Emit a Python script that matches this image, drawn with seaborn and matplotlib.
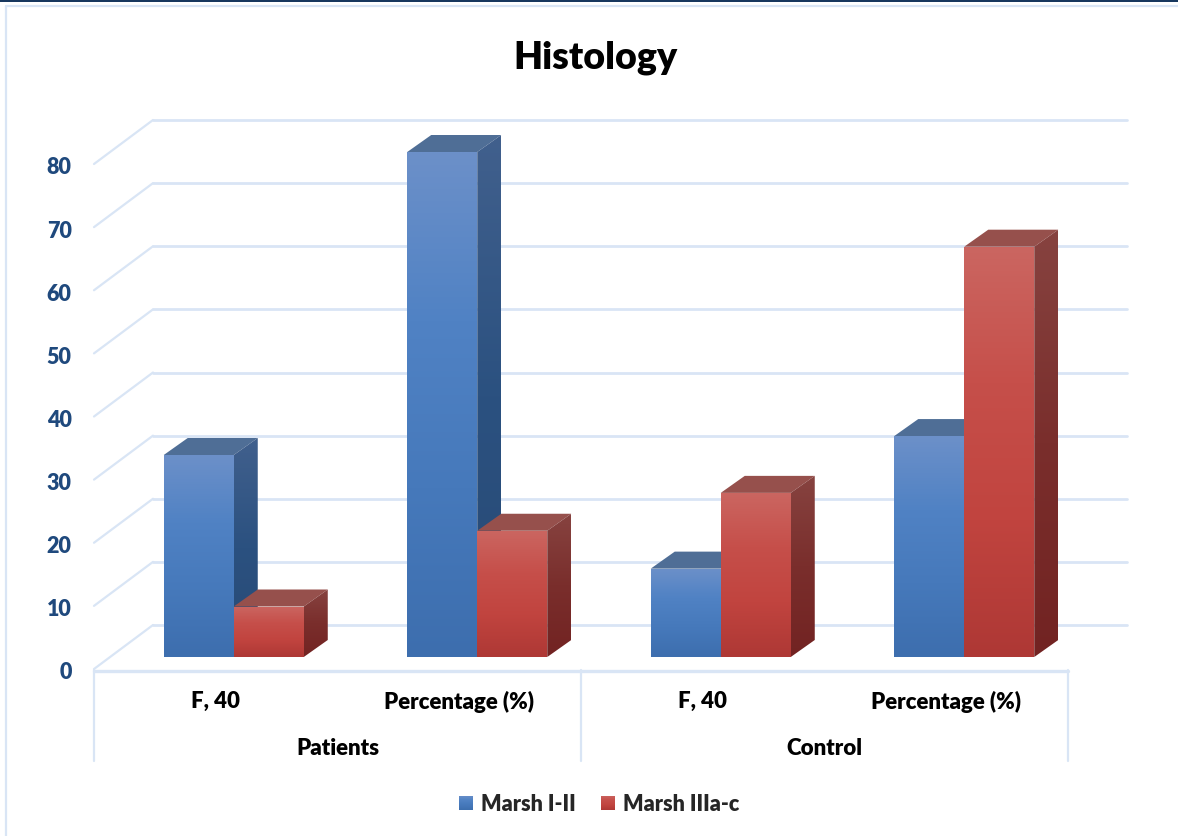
import numpy as np
import pandas as pd
import seaborn as sns
import matplotlib.pyplot as plt
from matplotlib.colors import LinearSegmentedColormap
from matplotlib.lines import Line2D
from matplotlib.patches import Polygon, Rectangle
from matplotlib.transforms import Affine2D, IdentityTransform

# chart values
groups = ["Patients", "Patients", "Control", "Control"]
categories = ["F, 40", "Percentage (%)", "F, 40 ", "Percentage (%) "]
marsh_low = [32, 80, 14, 35]
marsh_high = [8, 20, 26, 65]
series_names = ["Marsh I-II", "Marsh IIIa-c"]
y_ticks = [0, 10, 20, 30, 40, 50, 60, 70, 80]

W, H = 1178, 837
GRID = "#d9e5f5"
WEIGHT = "heavy"
DEPTH = (24, 17)      # bar depth in px
FRONT = (-18, -12)    # axis labels plane
BACK = (41, 32)       # back wall

sns.set_theme(style="white")
plt.rcParams["font.family"] = ["Lato", "DejaVu Sans"]
plt.rcParams["font.weight"] = WEIGHT

df = pd.DataFrame({
    "cat": categories * 2,
    "val": marsh_low + marsh_high,
    "series": [series_names[0]] * 4 + [series_names[1]] * 4,
})

fig = plt.figure(figsize=(W / 100, H / 100), dpi=100)
ax = fig.add_axes([112 / W, (H - 658) / H, 974 / W, 505 / H])
sns.barplot(data=df, x="cat", y="val", hue="series", hue_order=series_names,
            palette=["#4a7ebb", "#c0504d"], width=0.575, gap=0, saturation=1,
            ax=ax, zorder=3)
ax.set_xlim(-0.5, 3.5)
ax.set_ylim(0, 80)
ax.autoscale(False)
ax.set_xlabel("")
ax.set_ylabel("")
sns.despine(ax=ax, left=True, bottom=True)
ax.patch.set_alpha(0)


def shift(dx, dy):
    return ax.transData + Affine2D().translate(dx, dy)


def fade(colors, box, clip, z):
    # vertical gradient in px box, clipped on a polygon
    cmap = LinearSegmentedColormap.from_list("f", colors)
    im = ax.imshow(np.linspace(0, 1, 256)[:, None], cmap=cmap, aspect="auto",
                   extent=box, origin="upper", transform=IdentityTransform(),
                   zorder=z, interpolation="bilinear")
    im.set_clip_box(fig.bbox)
    im.set_clip_path(Polygon(clip, closed=True, transform=IdentityTransform()))


# back wall and side wall lines
for v in y_ticks:
    x0, y0 = ax.transData.transform((-0.5, v))
    ax.plot([-0.5, 3.5], [v, v], color=GRID, lw=2, transform=shift(*BACK),
            clip_on=False, zorder=1)
    ax.plot([x0 + FRONT[0], x0 + BACK[0]], [y0 + FRONT[1], y0 + BACK[1]],
            color=GRID, lw=1.6, transform=IdentityTransform(), clip_on=False, zorder=1)

# floor front edge and multi level separators
ax.plot([-0.5, 3.5], [0, 0], color=GRID, lw=2.4, transform=shift(-18, -14),
        clip_on=False, zorder=2)
for x in [-0.5, 1.5, 3.5]:
    px = ax.transData.transform((x, 0))
    ax.plot([px[0] - 18] * 2, [H - 671, H - 762], color=GRID, lw=1.6,
            transform=IdentityTransform(), clip_on=False, zorder=2)

# 3d faces on every bar, left to right so neighbours overlap properly
blue = dict(front=["#6c90c9", "#5082c4", "#4679bb", "#3d6eae"],
            side=["#41608d", "#2b5180", "#284a75"], top="#4f6e96")
red = dict(front=["#cb6661", "#c64f4a", "#c1443f", "#ae3835"],
           side=["#874340", "#7a2e2c", "#722322"], top="#96504c")
faces = [(p, blue if i < 4 else red) for i, p in enumerate(ax.patches[:8])]
faces.sort(key=lambda t: t[0].get_x())
z = 4
for p, c in faces:
    x0, x1 = p.get_x(), p.get_x() + p.get_width()
    (l, b), (r, t) = ax.transData.transform([(x0, 0), (x1, p.get_height())])
    dx, dy = DEPTH
    p.set_visible(False)
    top = Polygon([(l, t), (r, t), (r + dx, t + dy), (l + dx, t + dy)], closed=True,
                  fc=c["top"], ec="none", transform=IdentityTransform(), zorder=z,
                  clip_on=False)
    ax.add_patch(top)
    side = [(r, b), (r + dx, b + dy), (r + dx, t + dy), (r, t)]
    fade(c["side"], (r, r + dx, b, t + dy), side, z)
    front = [(l, b), (r, b), (r, t), (l, t)]
    fade(c["front"], (l, r, b, t), front, z + 1)
    z += 2

# tick labels sit on the front plane
ax.set_yticks(y_ticks, [str(v) for v in y_ticks])
ax.tick_params(axis="y", length=0, pad=29, labelsize=15.5, labelcolor="#1f497d")
ax.tick_params(axis="x", length=0, pad=24, labelsize=16, labelcolor="black")
ax.set_xticks(range(4), [c.strip() for c in categories])
for lab in ax.get_yticklabels():
    lab.set_transform(lab.get_transform() + Affine2D().translate(0, -13))
    lab.set_fontweight(WEIGHT)
for lab in ax.get_xticklabels():
    lab.set_transform(lab.get_transform() + Affine2D().translate(-18, 0))
    lab.set_fontweight(WEIGHT)
for x, name in [(0.5, groups[0]), (2.5, groups[2])]:
    ax.text(x, 0, name, transform=shift(-18, -91), ha="center", va="center",
            fontsize=16, color="black", clip_on=False, fontweight=WEIGHT)

fig.text(595 / W, 1 - 58 / H, "Histology", ha="center", va="center",
         fontsize=27, color="black", fontweight=WEIGHT)

# legend
leg = ax.legend(loc="center", bbox_to_anchor=(599 / W, 1 - 805 / H),
                bbox_transform=fig.transFigure, ncol=2, frameon=False,
                prop={"size": 15.5, "weight": WEIGHT},
                handlelength=0.65, handleheight=0.65, handletextpad=0.35,
                columnspacing=1.2, title=None)
leg.set_zorder(30)
fig.canvas.draw()
for h, c in zip(leg.get_patches(), [blue, red]):
    e = h.get_window_extent()
    fade(c["front"], (e.x0, e.x1, e.y0, e.y1),
         [(e.x0, e.y0), (e.x1, e.y0), (e.x1, e.y1), (e.x0, e.y1)], 31)

# outer frame and top band
fig.add_artist(Rectangle((0, 1 - 3 / H), 1, 3 / H, transform=fig.transFigure,
                         fc="#17375e", ec="none"))
fig.add_artist(Line2D([6 / W, 6 / W], [0, 1 - 7 / H], color=GRID, lw=1.6))
fig.add_artist(Line2D([6 / W, 1], [1 - 7 / H, 1 - 7 / H], color=GRID, lw=1.6))

fig.savefig("out.png", dpi=100)
